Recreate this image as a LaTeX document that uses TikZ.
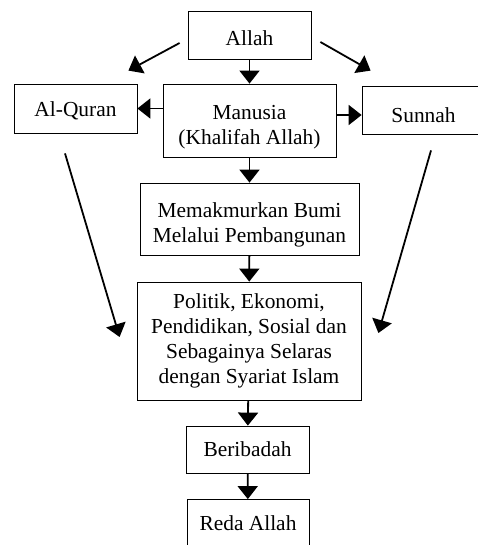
\documentclass[tikz,border=0pt]{standalone}
\usepackage{fontspec}
\setmainfont{Liberation Serif}
\usetikzlibrary{arrows.meta, calc}
\newcommand{\turun}[2]{\raisebox{-#1}[\height][\depth]{#2}}

\begin{document}
\begin{tikzpicture}[x=1pt, y=-1pt]
	\tikzstyle{box} = [draw, line width=0.8pt, inner sep=0pt, align=center, font=\fontsize{21.4}{25}\selectfont]
	\tikzstyle{arr} = [line width=1.8pt, -{Triangle[length=13pt, width=20pt]}]
	\useasboundingbox (0,0) rectangle (478,545);
	\node[box, minimum width=123, minimum height=48] (allah) at (249.5,35) {\turun{3pt}{Allah}}; \node[box, minimum width=173, minimum height=73] (manusia) at (249.5,120.5) {\turun{7pt}{\begin{tabular}{@{}c@{}}Manusia\\(Khalifah Allah)\end{tabular}}}; \node[box, minimum width=123, minimum height=49] (quran) at (75.5,108.5) {\turun{2pt}{Al-Quran}}; \node[box, minimum width=123, minimum height=48] (sunnah) at (423.5,110) {\turun{5pt}{Sunnah}};
	\node[box, minimum width=219, minimum height=72] (bumi) at (249.5,219) {\turun{6pt}{\begin{tabular}{@{}c@{}}Memakmurkan Bumi\\Melalui Pembangunan\end{tabular}}}; \node[box, minimum width=224, minimum height=118] (bidang) at (249,341) {Politik, Ekonomi,\\Pendidikan, Sosial dan\\Sebagainya Selaras\\dengan Syariat Islam}; \node[box, minimum width=123, minimum height=47] (ibadah) at (247.5,449.5) {Beribadah}; \node[box, minimum width=122, minimum height=48] (reda) at (248,523.5) {Reda Allah};
	
	\draw[arr] (allah) -- (manusia); \draw[arr] (manusia) -- (bumi); \draw[arr] (bumi) -- (bidang); \draw[arr] (bidang) -- (ibadah); \draw[arr] (ibadah) -- (reda);
	\draw[arr] (manusia.west |- quran.east) -- (quran.east); \draw[arr] ($(manusia.east |- sunnah.west)+(0,5)$) -- ($(sunnah.west)+(0,5)$);
	\draw[arr] ($(allah.west)+(-8,8)$) -- ($(quran.north east)+(-9,-13)$); \draw[arr] ($(allah.east)+(9,7)$) -- ($(sunnah.north west)+(9,-15)$);
	\draw[arr] ($(quran.south)+(-10.5,20)$) -- ($(bidang.west)+(-17,-4)$); \draw[arr] ($(sunnah.south)+(7.5,16)$) -- ($(bidang.east)+(17,-8)$);
\end{tikzpicture}
\end{document}
